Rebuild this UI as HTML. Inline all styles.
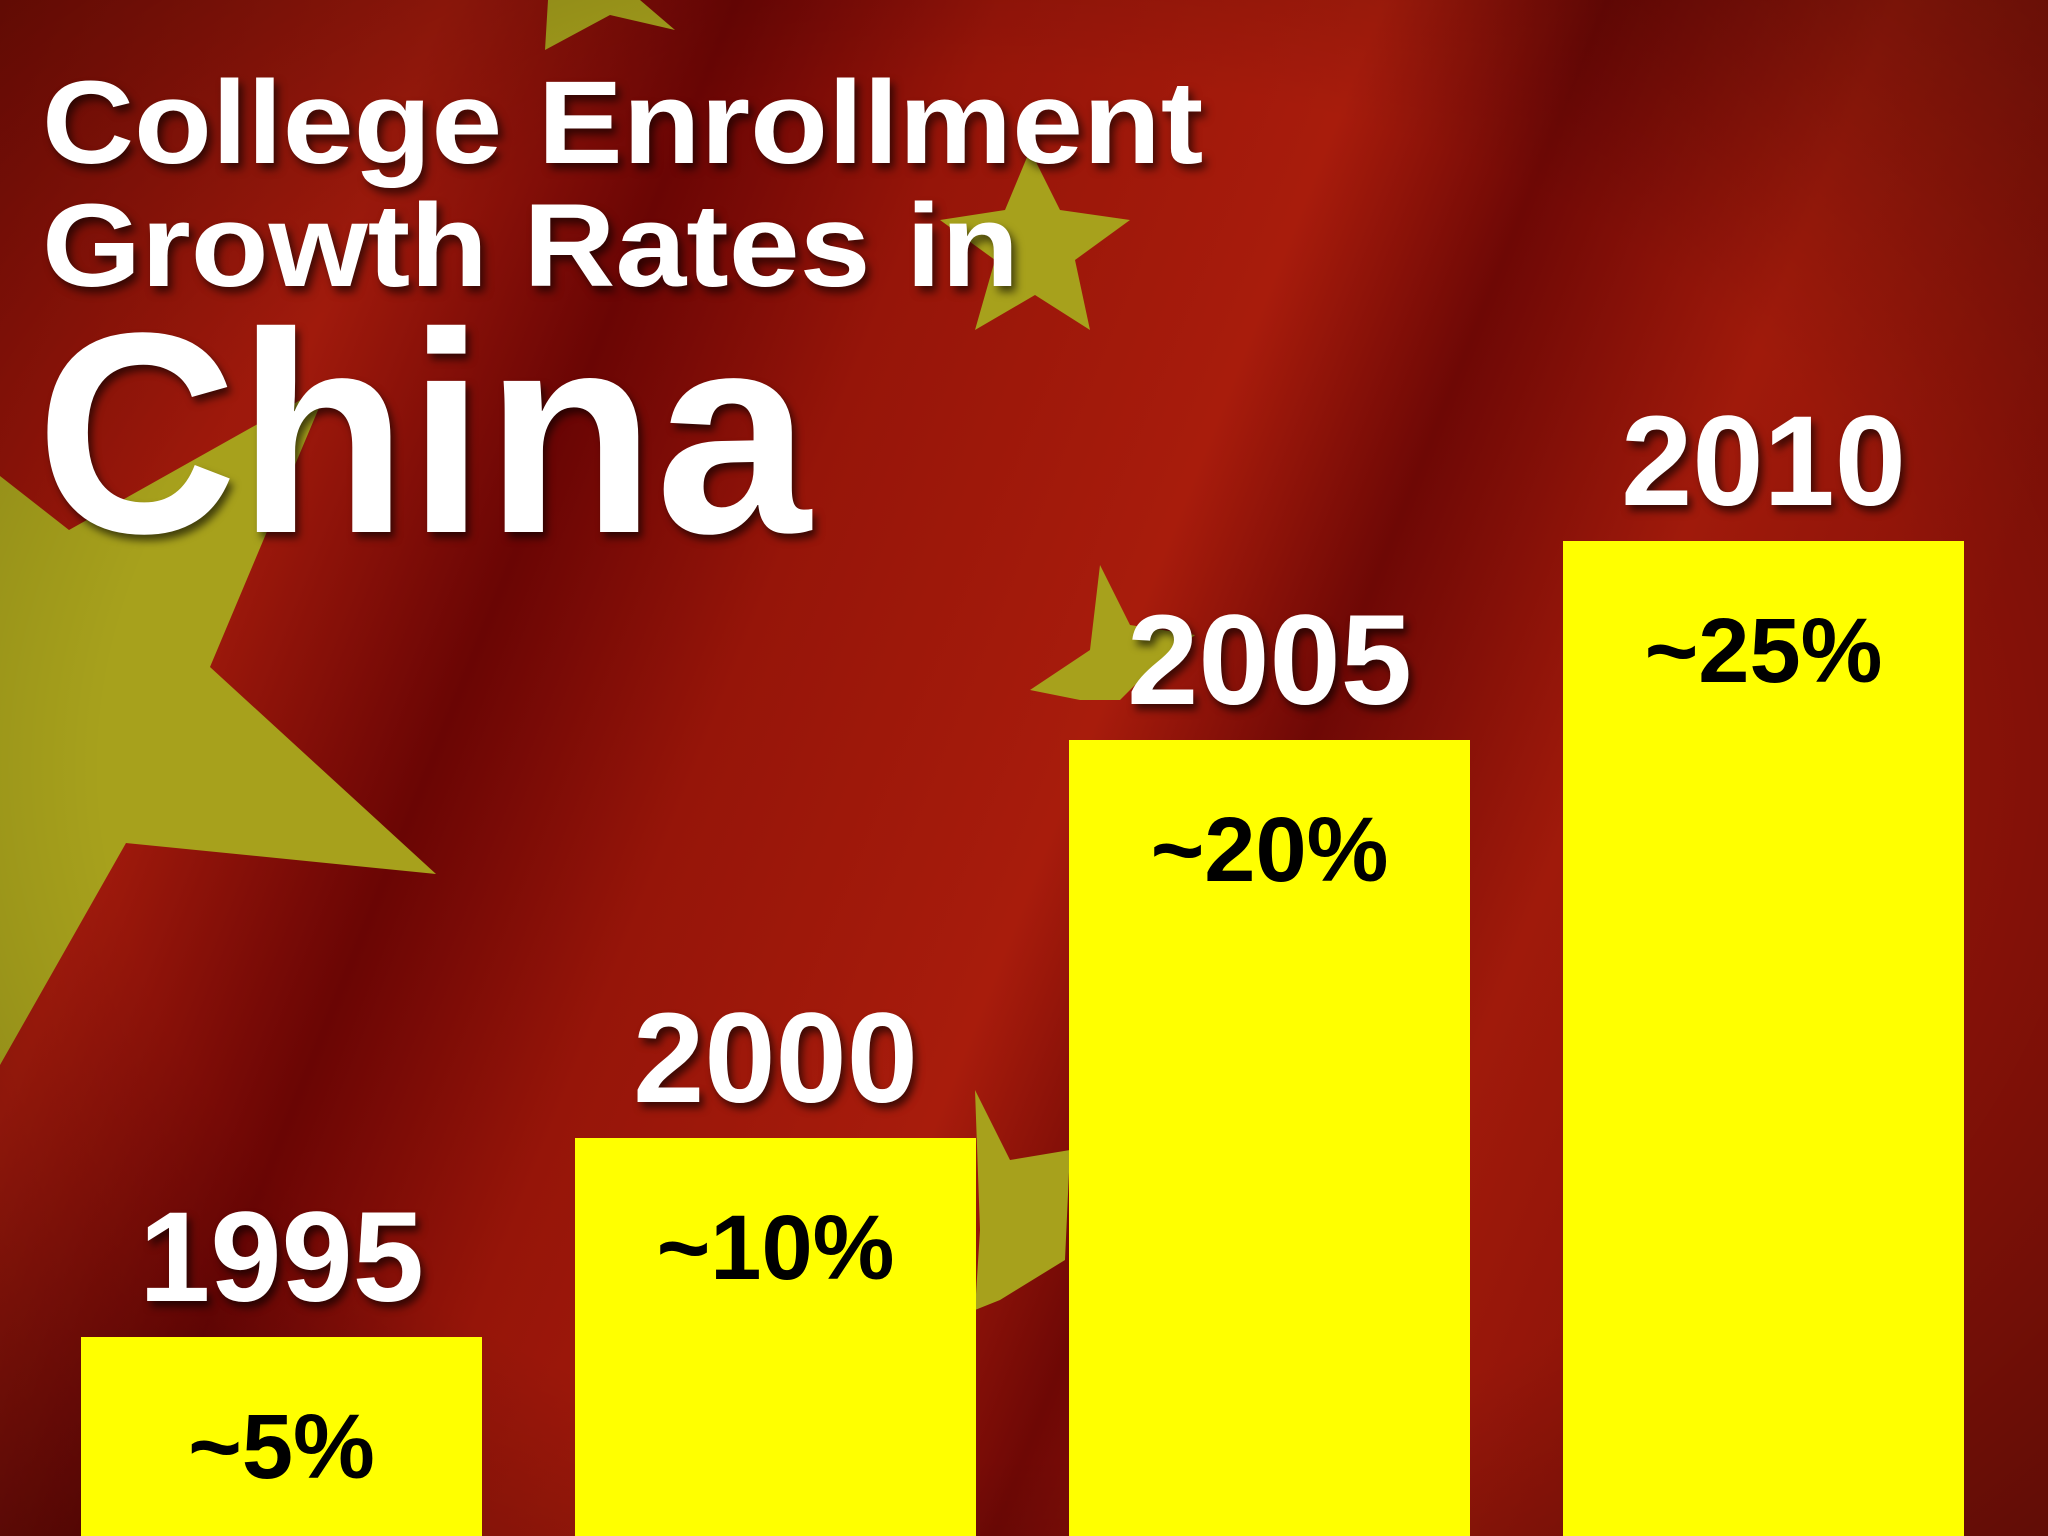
<!DOCTYPE html>
<html><head><meta charset="utf-8"><style>
html,body{margin:0;padding:0}
body{width:2048px;height:1536px;position:relative;overflow:hidden;font-family:"Liberation Sans",sans-serif;background:#8c1409}
svg{position:absolute;left:0;top:0}
.t{position:absolute;color:#fff;font-weight:bold;text-shadow:4px 6px 8px rgba(0,0,0,.6);white-space:nowrap;line-height:1}
</style></head><body>
<svg width="2048" height="1536">
<defs>
<linearGradient id="g" x1="0" y1="0" x2="1" y2="0.3">
<stop offset="0" stop-color="#8a0f06"/><stop offset="0.2" stop-color="#a01a0c"/><stop offset="0.33" stop-color="#6a0504"/>
<stop offset="0.45" stop-color="#961509"/><stop offset="0.62" stop-color="#a81c0c"/><stop offset="0.72" stop-color="#6e0805"/>
<stop offset="0.85" stop-color="#a01a0b"/><stop offset="1" stop-color="#8a1208"/></linearGradient>
<radialGradient id="v" cx="0.5" cy="0.5" r="0.75"><stop offset="0.6" stop-color="#000" stop-opacity="0"/><stop offset="1" stop-color="#000" stop-opacity="0.35"/></radialGradient>
</defs>
<rect width="2048" height="1536" fill="url(#g)"/>
<g fill="#a7a11c">
<polygon points="0,476 69,530 329,384 210,667 436,874 126,843 0,1065"/>
<polygon points="548,0 560,0 580,-10 640,0 675,30 610,15 545,50"/>
<polygon points="1030,150 1060,210 1130,220 1075,260 1090,330 1035,295 975,330 995,260 940,220 1005,210"/>
<polygon points="1100,565 1130,625 1195,635 1140,680 1120,700 1080,700 1030,690 1090,650"/>
<polygon points="975,1090 1010,1160 1070,1150 1065,1260 1000,1300 975,1310 980,1230"/>
</g>
<rect width="2048" height="1536" fill="url(#v)"/>
</svg>
<div class="t" style="left:42px;top:64px;font-size:118px;transform:scaleX(1.08);transform-origin:0 0">College Enrollment</div>
<div class="t" style="left:42px;top:187px;font-size:118px;transform:scaleX(1.08);transform-origin:0 0">Growth Rates in</div>
<div class="t" style="left:36px;top:290px;font-size:286px;transform:scaleX(0.975);transform-origin:0 0">China</div>
<div id="chart"></div>
<script>
const years=["1995","2000","2005","2010"];
const values=[5,10,20,25];
const labels=["~5%","~10%","~20%","~25%"];
const base=1536, perPct=39.8, x0=81, step=494, w=401;
const chart=document.getElementById('chart');
function y(v){return base-v*perPct;}
years.forEach((yr,i)=>{
  const left=x0+i*step, top=y(values[i]);
  const bar=document.createElement('div');
  
  
  bar.style.cssText=`position:absolute;left:${left}px;top:${top}px;width:${w}px;height:${base-top}px;background:#ffff00`;
  chart.appendChild(bar);
  const yl=document.createElement('div');
  
  
  yl.className='t';
  yl.textContent=yr;
  yl.style.cssText=`left:${left}px;width:${w}px;text-align:center;top:${top-143}px;font-size:128px`;
  chart.appendChild(yl);
  const vl=document.createElement('div');
  
  
  vl.textContent=labels[i];
  vl.style.cssText=`position:absolute;left:${left}px;width:${w}px;text-align:center;top:${top+64}px;font-size:92px;font-weight:bold;line-height:1;color:#000`;
  chart.appendChild(vl);
});
</script>
</body></html>
